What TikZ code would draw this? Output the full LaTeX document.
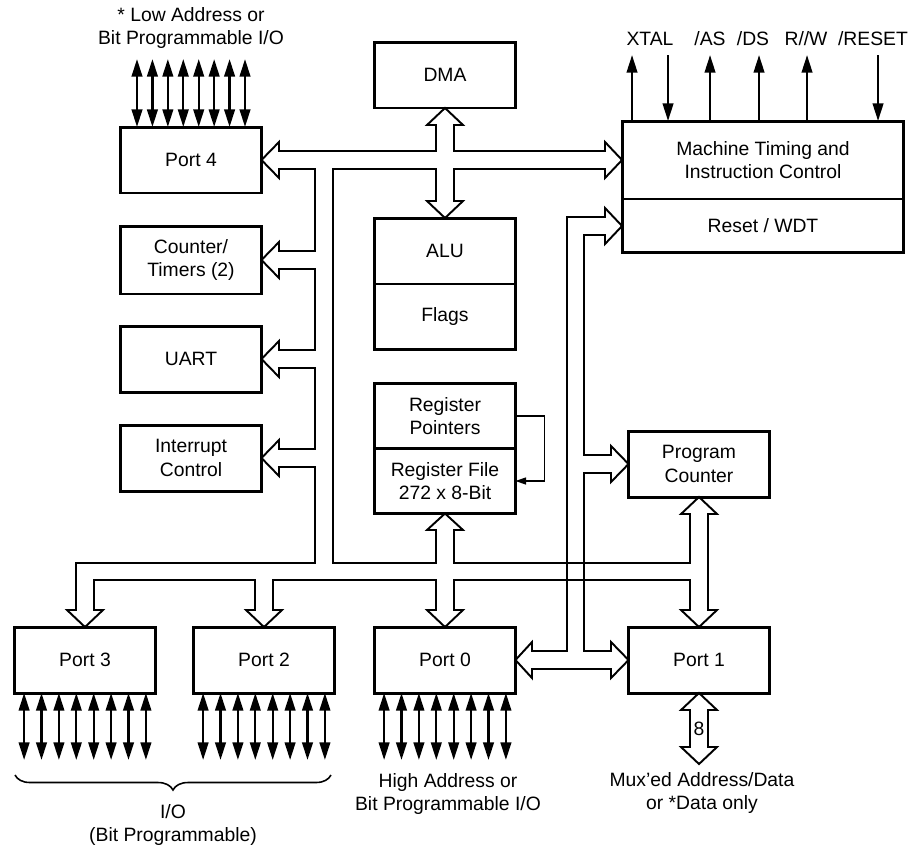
\documentclass[tikz,border=0pt]{standalone}
\usepackage{fontspec}
\setmainfont{Liberation Sans}
\usepackage{tikz}
\usetikzlibrary{arrows.meta, positioning, calc, decorations.pathreplacing}

\newcommand{\blkfont}{\fontsize{11}{13.5}\selectfont}

\begin{document}
\begin{tikzpicture}[x=0.02cm, y=-0.02cm,
    blk/.style={draw, line width=1.7pt, minimum width=2.82cm, minimum height=1.32cm,
        inner sep=0pt, outer sep=0pt, align=center, font=\blkfont},
    bus/.style={line width=1.1pt, line join=miter},
    pin/.style={line width=1.3pt, {Triangle[length=10pt,width=6pt]}-{Triangle[length=10pt,width=6pt]}},
    sigout/.style={line width=1.3pt, -{Triangle[length=10pt,width=6pt]}},
    sigin/.style={line width=1.3pt, {Triangle[length=10pt,width=6pt]}-},
    fb/.style={line width=0.7pt, -{Triangle[length=6pt,width=4pt]}},
    lbl/.style={align=center, font=\blkfont}
    ]
    \useasboundingbox (0,0) rectangle (908,846);

    % Bloecke links
    \node[blk] (port4) at (191,160) {Port 4};
    \node[blk, minimum height=1.36cm] (ctr) at (191,260) {Counter/\\Timers (2)};
    \node[blk] (uart) at (191,359) {UART};
    \node[blk] (intr) at (191,458) {Interrupt\\Control};

    % Bloecke Mitte
    \node[blk] (dma) at (445,75) {DMA};
    \node[blk] (alu) at (445,251) {ALU};
    \node[blk, below=0pt of alu] (flags) {Flags};
    \node[blk, minimum height=1.3cm] (rp) at (445,416) {Register\\Pointers};
    \node[blk, minimum height=1.3cm, below=0pt of rp] (rf) {Register File\\272 x 8-Bit};

    % Bloecke rechts
    \node[blk, minimum width=5.64cm, minimum height=1.56cm] (mt) at (763,160) {Machine Timing and\\Instruction Control};
    \node[blk, minimum width=5.64cm, minimum height=1.08cm, below=0pt of mt] (wdt) {Reset / WDT};
    \node[blk] (pc) at (699,464) {Program\\Counter};

    % Ports unten
    \node[blk] (port3) at (85,660) {Port 3};
    \node[blk] (port2) at (264,660) {Port 2};
    \node[blk] (port0) at (445,660) {Port 0};
    \node[blk] (port1) at (699,660) {Port 1};

    % Hauptbus (ein geschlossener Umriss)
    \draw[bus] (436,151) -- (279,151) -- (279,142) -- (port4.east) -- (279,178) -- (279,169)
        -- (315,169) -- (315,251) -- (279,251) -- (279,242) -- (ctr.east) -- (279,278) -- (279,269)
        -- (315,269) -- (315,350) -- (279,350) -- (279,341) -- (uart.east) -- (279,377) -- (279,368)
        -- (315,368) -- (315,449) -- (279,449) -- (279,440) -- (intr.east) -- (279,476) -- (279,467)
        -- (315,467) -- (315,563) -- (76,563) -- (76,610) -- (67,610) -- (port3.north) -- (103,610) -- (94,610)
        -- (94,580) -- (255,580) -- (255,610) -- (246,610) -- (port2.north) -- (282,610) -- (273,610)
        -- (273,580) -- (436,580) -- (436,610) -- (427,610) -- (port0.north) -- (463,610) -- (454,610)
        -- (454,580) -- (690,580) -- (690,610) -- (681,610) -- (port1.north) -- (717,610) -- (708,610)
        -- (708,514) -- (717,514) -- (pc.south) -- (681,514) -- (690,514)
        -- (690,563) -- (454,563) -- (454,530) -- (463,530) -- (rf.south) -- (427,530) -- (436,530)
        -- (436,563) -- (333,563) -- (333,169) -- (436,169) -- (436,201) -- (427,201) -- (alu.north)
        -- (463,201) -- (454,201) -- (454,169) -- (605,169) -- (605,178) -- (mt.west) -- (605,142)
        -- (605,151) -- (454,151) -- (454,125) -- (463,125) -- (dma.south) -- (427,125) -- (436,125) -- cycle;

    % Adressbus rechts
    \draw[bus] (567,651) -- (567,217) -- (605,217) -- (605,208) -- (wdt.west) -- (605,244) -- (605,235)
        -- (584,235) -- (584,455) -- (611,455) -- (611,446) -- (pc.west) -- (611,482) -- (611,473)
        -- (584,473) -- (584,651) -- (611,651) -- (611,642) -- (port1.west) -- (611,678) -- (611,669)
        -- (532,669) -- (532,678) -- (port0.east) -- (532,642) -- (532,651) -- cycle;

    % Port 1 nach aussen
    \coordinate (muxout) at (699,764);
    \draw[bus] (port1.south) -- (717,710) -- (708,710) -- (708,747) -- (717,747) -- (muxout)
        -- (681,747) -- (690,747) -- (690,710) -- (681,710) -- cycle;
    \node[font=\blkfont, inner sep=0pt] (bits) at (699,729) {8};

    % Register-Pointer Rueckfuehrung
    \draw[fb] (rp.east) -- ++(29,0) |- (rf.east);

    % I/O-Leitungen
    \foreach \i in {0,...,7}
        \draw[pin] ($(port4.north)+({(\i-3.5)*15.43},0)$) -- ++(0,-68);
    \foreach \p in {port3,port2,port0}
        \foreach \i in {0,...,7}
            \draw[pin] ($(\p.south)+({(\i-3.5)*17.4},0)$) -- ++(0,67);

    % Steuersignale
    \foreach \dx in {10,88,137,185}
        \draw[sigout] ($(mt.north west)+(\dx,0)$) -- ++(0,-66);
    \foreach \dx in {46,256}
        \draw[sigin] ($(mt.north west)+(\dx,0)$) -- ++(0,-66);

    \node[lbl] (xtal) at (650,39) {XTAL};
    \node[lbl] (as) at (710,39) {/AS};
    \node[lbl] (ds) at (753,39) {/DS};
    \node[lbl] (rw) at (806,39) {R//W};
    \node[lbl] (reset) at (873,39) {/RESET};

    % Beschriftungen
    \node[lbl] (lowio) at (191,28) {* Low Address or\\Bit Programmable I/O};
    \node[lbl] (highio) at (448,794) {High Address or\\Bit Programmable I/O};
    \node[lbl] (muxio) at (702,793) {Mux'ed Address/Data\\or *Data only};
    \draw[line width=0.9pt, decorate, decoration={brace, mirror, amplitude=0.3cm}] (15,775) -- (331,775);
    \node[lbl] (bitio) at (173,825) {I/O\\(Bit Programmable)};

\end{tikzpicture}
\end{document}
